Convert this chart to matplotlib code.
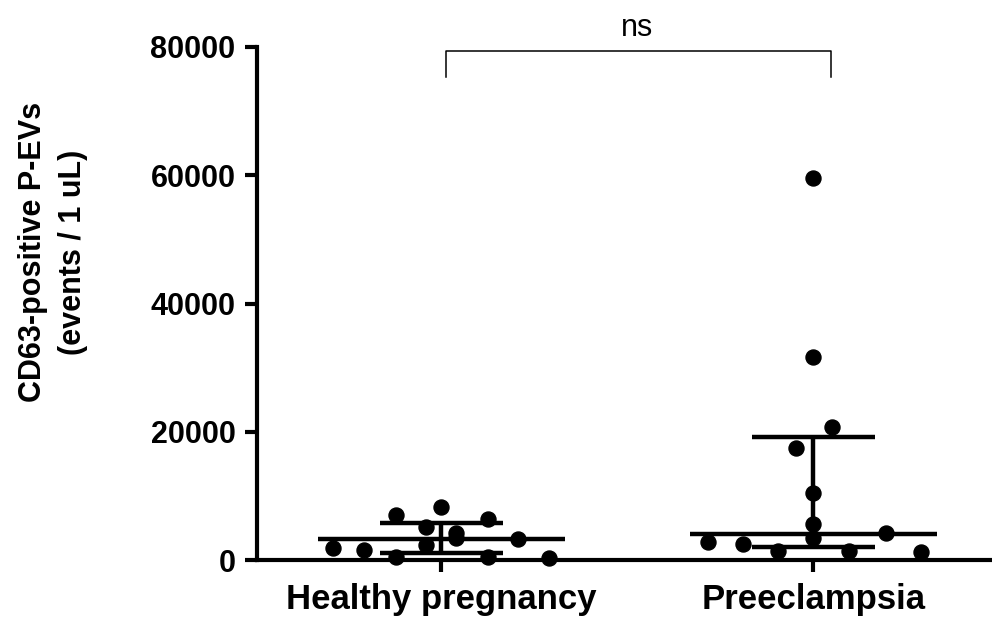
import matplotlib
matplotlib.use("Agg")
import matplotlib.pyplot as plt
import numpy as np

plt.rcParams['font.family'] = ['Liberation Sans', 'DejaVu Sans']

categories = ["Healthy pregnancy", "Preeclampsia"]

healthy_vals = [1870, 1560, 7020, 470, 5150, 2340, 8270, 4210, 3430, 6400, 470, 3280, 310]
healthy_off = [-0.29, -0.207, -0.121, -0.121, -0.04, -0.04, 0.0, 0.04, 0.04, 0.126, 0.126, 0.207, 0.29]

pe_vals = [2860, 2500, 1450, 17520, 59640, 31620, 10400, 5570, 3380, 20800, 1450, 4160, 1300]
pe_off = [-0.282, -0.188, -0.094, -0.046, 0.0, 0.0, 0.0, 0.0, 0.0, 0.051, 0.097, 0.194, 0.288]

medians = [3280, 4000]
q1 = [1090, 2080]
q3 = [5770, 19240]

yticks = [0, 20000, 40000, 60000, 80000]
ylabel = "CD63-positive P-EVs\n(events / 1 uL)"
sig_text = "ns"

fig = plt.figure(figsize=(9.92, 6.22), dpi=100)
ax = fig.add_axes([257/992, 1-560/622, 1-257/992, (560-47)/622])

groups = [(healthy_vals, healthy_off), (pe_vals, pe_off)]
lw = 3.2
for i, (vals, offs) in enumerate(groups):
    xs = [i + o for o in offs]
    ax.plot(xs, vals, 'o', color='black', markersize=10.8, clip_on=False, zorder=3)
    ax.plot([i - 0.332, i + 0.332], [medians[i]] * 2, color='black', lw=lw, solid_capstyle='butt', zorder=4)
    ax.plot([i, i], [q1[i], q3[i]], color='black', lw=lw, solid_capstyle='butt', zorder=4)
    for q in (q1[i], q3[i]):
        ax.plot([i - 0.165, i + 0.165], [q, q], color='black', lw=lw, solid_capstyle='butt', zorder=4)

ax.set_xlim(-0.495, 1.48)
ax.set_ylim(0, 80000)
ax.set_yticks(yticks)
ax.set_yticklabels([str(t) for t in yticks], fontsize=22, fontweight='bold')
ax.set_xticks([0, 1])
ax.set_xticklabels(categories, fontsize=25, fontweight='bold')
ax.tick_params(axis='both', width=3, length=8.5, color='black')
ax.tick_params(axis='y', pad=7)
ax.tick_params(axis='x', pad=8)
for s in ('top', 'right'):
    ax.spines[s].set_visible(False)
for s in ('left', 'bottom'):
    ax.spines[s].set_linewidth(3)

# significance bracket
x0, x1 = 0.014, 1.048
ybr = 79360
ylo = 75300
ax.plot([x0, x0, x1, x1], [ylo, ybr, ybr, ylo], color='black', lw=1.1, clip_on=False)
ax.text(0.527, 83000, sig_text, ha='center', va='center', fontsize=22, clip_on=False)

fig.text(53/992, 1-252/622, ylabel, rotation=90, ha='center', va='center',
         fontsize=22, fontweight='bold', multialignment='center', linespacing=1.4)

fig.savefig("out.png", dpi=100)
